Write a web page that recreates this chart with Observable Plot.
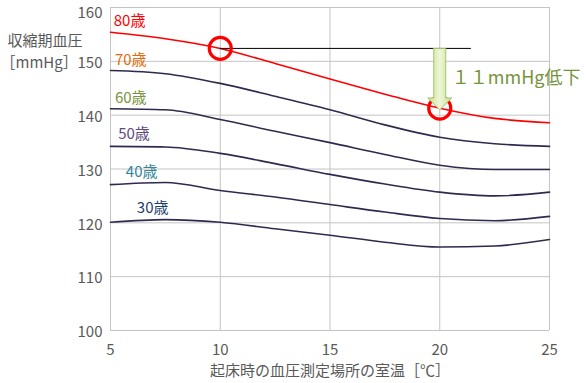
<!DOCTYPE html>
<html><head><meta charset="utf-8">
<script src="https://cdn.jsdelivr.net/npm/d3@7"></script>
<script src="https://cdn.jsdelivr.net/npm/@observablehq/plot@0.6"></script>
<style>
html,body{margin:0;padding:0;background:#fff;}
#chart svg{display:block;}
</style>
</head><body><div id="chart"></div>
<script>
// ---- data ----
const temps = [5, 7.5, 10, 12.5, 15, 17.5, 20, 22.5, 25];
const ages = ["80歳", "70歳", "60歳", "50歳", "40歳", "30歳"];
const bp80 = [155.4, 154.2, 152.4, 149.6, 146.7, 143.9, 141.3, 139.4, 138.6];
const bp70 = [148.3, 147.7, 145.9, 143.5, 141.0, 138.2, 135.9, 134.7, 134.2];
const bp60 = [141.2, 141.0, 139.2, 137.0, 134.9, 132.7, 130.7, 129.9, 129.9];
const bp50 = [134.2, 134.1, 132.9, 131.0, 129.0, 127.2, 125.7, 125.0, 125.7];
const bp40 = [127.1, 127.5, 126.0, 124.8, 123.4, 122.0, 120.8, 120.4, 121.2];
const bp30 = [120.1, 120.6, 120.1, 118.9, 117.7, 116.4, 115.5, 115.7, 116.9];
const labelTemp = [5.15, 5.2, 5.2, 5.35, 5.7, 6.2];
const labelBP = [157.4, 150.2, 143.2, 136.5, 129.5, 122.7];
const labelColors = ["#ff0000", "#e46c0a", "#77933c", "#604a7b", "#31859c", "#1f3f6e"];
const xTicks = [5, 10, 15, 20, 25];
const yTicks = [100, 110, 120, 130, 140, 150, 160];
// annotation
const fromTemp = 10, toTemp = 20, refLineEnd = 21.4;
const arrowTip = 141.0;
const noteText = "１１mmHg低下";
const noteTemp = 20.55, noteBP = 146.8;

const series = [bp80, bp70, bp60, bp50, bp40, bp30];
const rows = [];
series.forEach((s, i) => s.forEach((v, j) => rows.push({age: ages[i], t: temps[j], bp: v, red: i === 0})));
const labels = ages.map((a, i) => ({age: a, t: labelTemp[i], bp: labelBP[i], c: labelColors[i]}));
const bpAt = t => bp80[temps.indexOf(t)];
const refBP = bpAt(fromTemp);
const circles = [{t: fromTemp, bp: refBP}, {t: toTemp, bp: bpAt(toTemp)}];
const yMax = d3.max(yTicks);

// arrow polygon in data units (shaft/head sizes in scale units)
const sx = 0.273, hx = 0.55, hy = 2.2;
const arrow = [
  [toTemp - sx, refBP], [toTemp + sx, refBP], [toTemp + sx, arrowTip + hy],
  [toTemp + hx, arrowTip + hy], [toTemp, arrowTip], [toTemp - hx, arrowTip + hy],
  [toTemp - sx, arrowTip + hy], [toTemp - sx, refBP]
].map(([t, bp]) => ({t, bp}));

const font = "'Noto Sans CJK JP', 'Noto Sans', sans-serif";
const gray = "#595959";

const chart = Plot.plot({
  width: 587, height: 383,
  marginLeft: 110, marginRight: 38, marginTop: 7, marginBottom: 53,
  style: {fontFamily: font, fontSize: "15px", color: gray, background: "#fff"},
  x: {domain: [5, 25]},
  y: {domain: [100, 160]},
  marks: [
    Plot.gridX(xTicks, {stroke: "#c4c4c4", strokeOpacity: 1, strokeWidth: 1}),
    Plot.gridY(yTicks, {stroke: "#c4c4c4", strokeOpacity: 1, strokeWidth: 1}),
    Plot.axisX(xTicks, {tickSize: 0, tickPadding: 14, fill: gray, fontSize: 15,
      label: "起床時の血圧測定場所の室温［℃］", labelAnchor: "center", labelArrow: "none", labelOffset: 45}),
    Plot.axisY(yTicks.filter(v => v !== yMax), {tickSize: 0, tickPadding: 8, dy: 2, fill: gray, fontSize: 15, label: null}),
    Plot.axisY([yMax], {tickSize: 0, tickPadding: 8, dy: 6, fill: gray, fontSize: 15, label: null}),
    Plot.text(["収縮期血圧"], {frameAnchor: "top-left", dx: -103, dy: 28, textAnchor: "start", fill: gray, fontSize: 15}),
    Plot.text(["［mmHg］"], {frameAnchor: "top-left", dx: -110, dy: 50, textAnchor: "start", fill: gray, fontSize: 15}),
    Plot.line(rows.filter(d => !d.red), {x: "t", y: "bp", z: "age", curve: "monotone-x", stroke: "#2e2a4e", strokeWidth: 1.6}),
    Plot.line(rows.filter(d => d.red), {x: "t", y: "bp", curve: "monotone-x", stroke: "#ff0000", strokeWidth: 1.6}),
    Plot.text(labels, {x: "t", y: "bp", text: "age", fill: "c", textAnchor: "start", fontSize: 15}),
    Plot.line([{t: fromTemp, bp: refBP}, {t: refLineEnd, bp: refBP}], {x: "t", y: "bp", stroke: "#000", strokeWidth: 1}),
    Plot.dot(circles, {x: "t", y: "bp", r: 11, stroke: "#ff0000", strokeWidth: 3.2, fill: "none"}),
    Plot.line(arrow, {x: "t", y: "bp", fill: "url(#arrowGrad)", stroke: "#a6c46a", strokeWidth: 1}),
    Plot.text([noteText], {x: () => noteTemp, y: () => noteBP, textAnchor: "start", fill: "#77933c", fontSize: 18})
  ]
});

// gradient definition for the block arrow
const ns = "http://www.w3.org/2000/svg";
const defs = document.createElementNS(ns, "defs");
const lg = document.createElementNS(ns, "linearGradient");
lg.setAttribute("id", "arrowGrad");
lg.setAttribute("x1", "0"); lg.setAttribute("x2", "1"); lg.setAttribute("y1", "0"); lg.setAttribute("y2", "0");
[["0%", "#c5df8c"], ["50%", "#eef6d8"], ["100%", "#c5df8c"]].forEach(([o, c]) => {
  const st = document.createElementNS(ns, "stop");
  st.setAttribute("offset", o); st.setAttribute("stop-color", c);
  lg.appendChild(st);
});
defs.appendChild(lg);
chart.insertBefore(defs, chart.firstChild);
chart.style.overflow = "visible";
document.getElementById("chart").appendChild(chart);
</script>
</body></html>
